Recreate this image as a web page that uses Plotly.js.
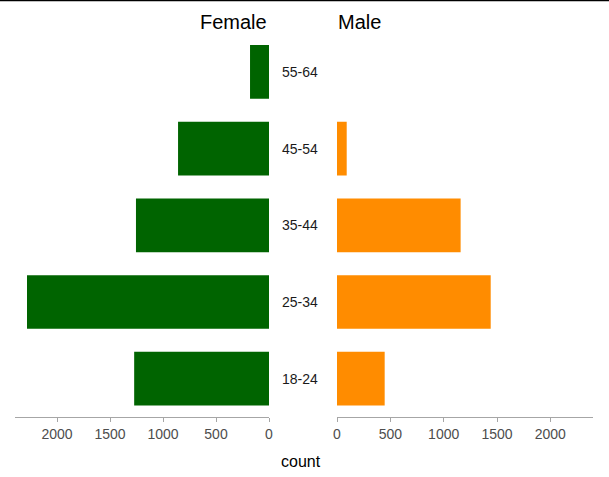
<!DOCTYPE html>
<html>
<head>
<meta charset="utf-8">
<script src="https://cdn.plot.ly/plotly-3.0.1.min.js"></script>
<style>
html,body{margin:0;padding:0;background:#fff;}
#chart{width:609px;height:477px;}
</style>
</head>
<body>
<div id="chart"></div>
<script>
const ageGroups = ["18-24", "25-34", "35-44", "45-54", "55-64"];
const femaleCounts = [1272, 2283, 1255, 858, 179];
const maleCounts = [447, 1441, 1159, 91, 0];
const tickVals = [0, 500, 1000, 1500, 2000];
const tickText = ["0", "500", "1000", "1500", "2000"];
const panelTitles = ["Female", "Male"];
const axisTitle = "count";

const font = "Liberation Sans, Arial, sans-serif";
const axisMax = 2400;

const traces = [
  {
    type: "bar", orientation: "h",
    x: femaleCounts, y: ageGroups,
    xaxis: "x", yaxis: "y",
    marker: {color: "#006400"},
    width: 0.7, hoverinfo: "x+y", showlegend: false
  },
  {
    type: "bar", orientation: "h",
    x: maleCounts, y: ageGroups,
    xaxis: "x2", yaxis: "y2",
    marker: {color: "#FF8C00"},
    width: 0.7, hoverinfo: "x+y", showlegend: false
  }
];

const xCommon = {
  tickvals: tickVals, ticktext: tickText,
  showgrid: false, zeroline: false,
  showline: true, linecolor: "#a6a6a6", linewidth: 1,
  ticks: "outside", ticklen: 4, tickcolor: "#a6a6a6", tickwidth: 1,
  tickfont: {family: font, size: 14, color: "#4d4d4d"},
  fixedrange: true
};
const yCommon = {
  type: "category", categoryorder: "array", categoryarray: ageGroups,
  range: [-0.5, 4.5], domain: [0.1258, 0.9296],
  showticklabels: false, showgrid: false, zeroline: false, showline: false,
  ticks: "", fixedrange: true
};

const annotations = [
  {text: panelTitles[0], xref: "paper", yref: "paper", x: 269/609, y: 1 - 22/477,
   xanchor: "right", yanchor: "middle", showarrow: false,
   font: {family: font, size: 20, color: "#000"}},
  {text: panelTitles[1], xref: "paper", yref: "paper", x: 336/609, y: 1 - 22/477,
   xanchor: "left", yanchor: "middle", showarrow: false,
   font: {family: font, size: 20, color: "#000"}},
  {text: axisTitle, xref: "paper", yref: "paper", x: 301/609, y: 1 - 461/477,
   xanchor: "center", yanchor: "middle", showarrow: false,
   font: {family: font, size: 16, color: "#000"}}
];
ageGroups.forEach(g => annotations.push({
  text: g, xref: "paper", yref: "y", x: 300/609, y: g,
  xanchor: "center", yanchor: "middle", showarrow: false,
  font: {family: font, size: 14, color: "#1a1a1a"}
}));

const layout = {
  width: 609, height: 477,
  margin: {l: 0, r: 0, t: 0, b: 0, pad: 0},
  paper_bgcolor: "#fff", plot_bgcolor: "#fff",
  showlegend: false,
  bargap: 0.3,
  xaxis: Object.assign({}, xCommon, {domain: [14.6/609, 269/609], range: [axisMax, 0], anchor: "y"}),
  xaxis2: Object.assign({}, xCommon, {domain: [337/609, 593/609], range: [0, axisMax], anchor: "y2"}),
  yaxis: Object.assign({}, yCommon, {anchor: "x"}),
  yaxis2: Object.assign({}, yCommon, {anchor: "x2"}),
  annotations: annotations,
  shapes: [
    {type: "line", xref: "paper", yref: "paper", x0: 0, x1: 1, y0: 1 - 0.5/477, y1: 1 - 0.5/477,
     line: {color: "#000", width: 1.5}}
  ]
};

Plotly.newPlot("chart", traces, layout, {displayModeBar: false, staticPlot: true});
</script>
</body>
</html>
